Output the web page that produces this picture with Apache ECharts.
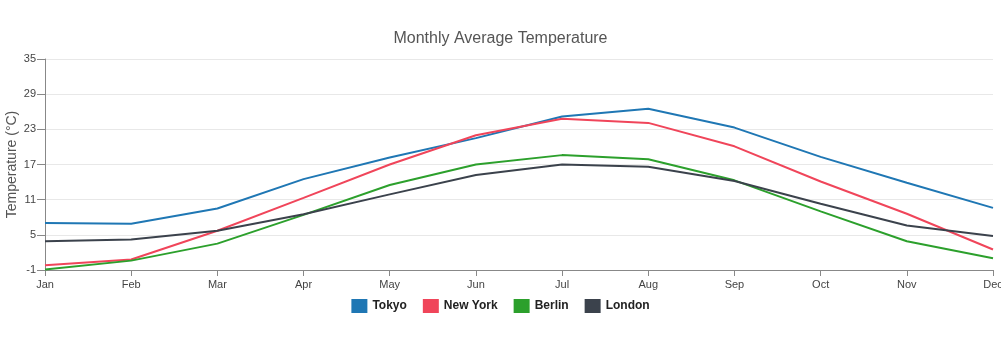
<!DOCTYPE html>
<html>
<head>
<meta charset="utf-8">
<script src="https://cdn.jsdelivr.net/npm/echarts@6/dist/echarts.min.js"></script>
<style>
  html, body { margin: 0; padding: 0; background: #fff; }
  #chart { width: 1001px; height: 353px; }
</style>
</head>
<body>
<div id="chart"></div>
<script>
// data
const months = ['Jan', 'Feb', 'Mar', 'Apr', 'May', 'Jun', 'Jul', 'Aug', 'Sep', 'Oct', 'Nov', 'Dec'];
const tokyo = [7.0, 6.9, 9.5, 14.5, 18.2, 21.5, 25.2, 26.5, 23.3, 18.3, 13.9, 9.6];
const newYork = [-0.2, 0.8, 5.7, 11.3, 17.0, 22.0, 24.8, 24.1, 20.1, 14.1, 8.6, 2.5];
const berlin = [-0.9, 0.6, 3.5, 8.4, 13.5, 17.0, 18.6, 17.9, 14.3, 9.0, 3.9, 1.0];
const london = [3.9, 4.2, 5.7, 8.5, 11.9, 15.2, 17.0, 16.6, 14.2, 10.3, 6.6, 4.8];

const cityNames = ['Tokyo', 'New York', 'Berlin', 'London'];
const cityColors = ['#1f77b4', '#f0455a', '#2ca02c', '#3b424c'];
const cityValues = [tokyo, newYork, berlin, london];

const chart = echarts.init(document.getElementById('chart'));

chart.setOption({
    animation: false,
    textStyle: { fontFamily: 'Liberation Sans, Arial, sans-serif' },
    title: {
        text: 'Monthly Average Temperature',
        left: 'center',
        top: 26,
        textStyle: { fontSize: 16, fontWeight: 'normal', color: '#555' }
    },
    legend: {
        top: 294,
        left: 'center',
        icon: 'rect',
        itemWidth: 16,
        itemHeight: 14,
        itemGap: 16,
        textStyle: { fontSize: 12, fontWeight: 'bold', color: '#222' },
        data: cityNames
    },
    grid: { left: 45, right: 8, top: 59, bottom: 83, containLabel: false, outerBoundsMode: 'none' },
    xAxis: {
        type: 'category',
        data: months,
        boundaryGap: false,
        axisLine: { onZero: false, lineStyle: { color: '#888' } },
        axisTick: { alignWithLabel: true, length: 6, lineStyle: { color: '#888' } },
        axisLabel: { color: '#444', fontSize: 11, margin: 9 }
    },
    yAxis: {
        type: 'value',
        min: -1,
        max: 35,
        interval: 6,
        name: 'Temperature (°C)',
        nameLocation: 'middle',
        nameGap: 26,
        nameMoveOverlap: false,
        nameTextStyle: { fontSize: 14, color: '#555' },
        axisLine: { show: true, lineStyle: { color: '#888' } },
        axisTick: { show: true, length: 8, lineStyle: { color: '#888' } },
        axisLabel: { color: '#444', fontSize: 11, margin: 9 },
        splitLine: { lineStyle: { color: '#e8e8e8' } }
    },
    series: cityNames.map((name, i) => ({
        name: name,
        type: 'line',
        data: cityValues[i],
        showSymbol: false,
        symbol: 'none',
        color: cityColors[i],
        lineStyle: { width: 2, color: cityColors[i] }
    }))
});
</script>
</body>
</html>
